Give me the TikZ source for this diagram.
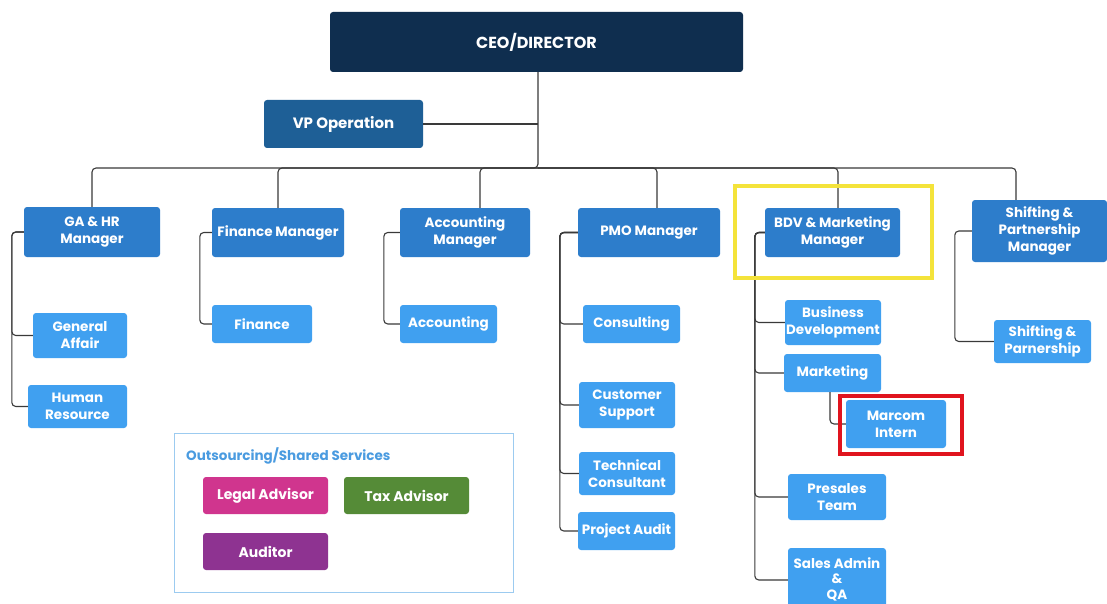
\documentclass[tikz,border=0pt]{standalone}
\usepackage{fontspec}
\setmainfont{Poppins}
\usetikzlibrary{positioning}
\definecolor{ceoblue}{HTML}{0F2E4F}
\definecolor{vpblue}{HTML}{1E5F96}
\definecolor{mgrblue}{HTML}{2D7DCB}
\definecolor{staffblue}{HTML}{40A0F0}
\definecolor{titleblue}{HTML}{4A9BE0}
\definecolor{frameblue}{HTML}{9CCBF0}
\definecolor{legalpink}{HTML}{D0358E}
\definecolor{taxgreen}{HTML}{558B37}
\definecolor{auditpurple}{HTML}{8E3391}
\definecolor{linegray}{HTML}{3A3A3A}
\definecolor{hlyellow}{HTML}{F4E33A}
\definecolor{hlred}{HTML}{E0141E}
\tikzset{box/.style={rounded corners=3pt, text=white, align=center, inner sep=0pt,
    font=\bfseries\fontsize{13.5}{17}\selectfont}}
\tikzset{sz/.style 2 args={minimum width=#1pt, minimum height=#2pt}}
\tikzset{mgr/.style={box, fill=mgrblue}}
\tikzset{staff/.style={box, fill=staffblue}}
\tikzset{link/.style={draw=linegray, line width=1.1pt, rounded corners=4pt}}

\begin{document}
\begin{tikzpicture}[x=1pt,y=-1pt]
    \fill[white] (0,0) rectangle (1107,604);
    \useasboundingbox (0,0) rectangle (1107,604);

    % Top
    \node[box, fill=ceoblue, sz={413}{60}, font=\bfseries\fontsize{16}{19}\selectfont] (ceo) at (536.5,42) {CEO/DIRECTOR};
    \node[box, fill=vpblue, sz={159}{48}, font=\bfseries\fontsize{15}{18}\selectfont] (vp) at (343.5,124) {VP Operation};

    % Managers
    \node[mgr, sz={136}{50}] (gahr) at (92,232) {GA \& HR\\Manager};
    \node[mgr, sz={132}{49}] (fin) at (278,232.5) {Finance Manager};
    \node[mgr, sz={130}{49}] (acc) at (465,232.5) {Accounting\\Manager};
    \node[mgr, sz={142}{49}] (pmo) at (649,232.5) {PMO Manager};
    \node[mgr, sz={135}{49}] (bdv) at (832.5,232.5) {BDV \& Marketing\\Manager};
    \node[mgr, sz={135}{62}] (shf) at (1039.5,231) {Shifting \&\\Partnership\\Manager};

    % Staff
    \node[staff, sz={94}{45}] (ga) at (80,335.5) {General\\Affair};
    \node[staff, sz={99}{43}] (hr) at (77.5,406.5) {Human\\Resource};
    \node[staff, sz={100}{38}] (finc) at (262,324) {Finance};
    \node[staff, sz={97}{38}] (accc) at (448.5,324) {Accounting};
    \node[staff, sz={97}{38}] (cons) at (631.5,324) {Consulting};
    \node[staff, sz={96}{46}] (cust) at (627,405) {Customer\\Support};
    \node[staff, sz={96}{43}] (tech) at (627,473.5) {Technical\\Consultant};
    \node[staff, sz={97}{38}] (paud) at (626.5,531) {Project Audit};
    \node[staff, sz={96}{45}] (bizd) at (833,322.5) {Business\\Development};
    \node[staff, sz={97}{38}] (mkt) at (832.5,373) {Marketing};
    \node[staff, sz={100}{48}] (marcom) at (896,424) {Marcom\\Intern};
    \node[staff, sz={98}{46}] (pres) at (837,497) {Presales\\Team};
    \node[staff, sz={98}{62}, font=\bfseries\fontsize{13.5}{15.5}\selectfont] (sales) at (837,579) {Sales Admin\\\&\\QA};
    \node[staff, sz={97}{43}] (shp) at (1042.5,341.5) {Shifting \&\\Parnership};

    % Connectors
    \coordinate (bus) at (538,168);
    \draw[link] (ceo.south -| bus) -- (bus) -| (gahr.north);
    \draw[link] (bus) -| (fin.north);
    \draw[link] (bus) -| ([xshift=15pt]acc.north);
    \draw[link] (bus) -| ([xshift=8pt]pmo.north);
    \draw[link] (bus) -| ([xshift=5.5pt]bdv.north);
    \draw[link] (bus) -| ([xshift=-23.5pt]shf.north);
    \draw[link] (vp.east) -- (vp.east -| bus);

    \draw[link] (gahr.west) -- ++(-12,0) |- (ga.west);
    \draw[link] (gahr.west) -- ++(-12,0) |- (hr.west);
    \draw[link] (fin.west) -- ++(-12,0) |- (finc.west);
    \draw[link] (acc.west) -- ++(-16,0) |- (accc.west);
    \draw[link] (pmo.west) -- ++(-18,0) |- (cons.west);
    \draw[link] (pmo.west) -- ++(-18,0) |- (cust.west);
    \draw[link] (pmo.west) -- ++(-18,0) |- (tech.west);
    \draw[link] (pmo.west) -- ++(-18,0) |- (paud.west);
    \draw[link] (bdv.west) -- ++(-10,0) |- (bizd.west);
    \draw[link] (bdv.west) -- ++(-10,0) |- (mkt.west);
    \draw[link] (bdv.west) -- ++(-10,0) |- (pres.west);
    \draw[link] (bdv.west) -- ++(-10,0) |- ([yshift=-1pt]sales.west);
    \draw[link] (shf.west) -- ++(-17,0) |- (shp.west);
    \draw[link] ([xshift=-2.5pt]mkt.south) |- (marcom.west);

    % Highlights
    \draw[hlyellow, line width=4pt] (735,186) rectangle (932,278);
    \draw[hlred, line width=3.5pt] (840,396) rectangle (962,454);

    % Outsourcing
    \draw[frameblue, line width=1pt] (174,433) rectangle (513,592);
    \node[anchor=west, text=titleblue, inner sep=0pt, font=\bfseries\fontsize{13.5}{16}\selectfont] (outtitle) at (186,456) {Outsourcing/Shared Services};
    \node[box, fill=legalpink, sz={125}{37}, font=\bfseries\fontsize{14}{17}\selectfont] (legal) at (265.5,495.5) {Legal Advisor};
    \node[box, fill=taxgreen, sz={125}{37}, font=\bfseries\fontsize{14}{17}\selectfont] (tax) at (406.5,495.5) {Tax Advisor};
    \node[box, fill=auditpurple, sz={125}{37}, font=\bfseries\fontsize{14}{17}\selectfont] (aud) at (265.5,551.5) {Auditor};
\end{tikzpicture}
\end{document}
